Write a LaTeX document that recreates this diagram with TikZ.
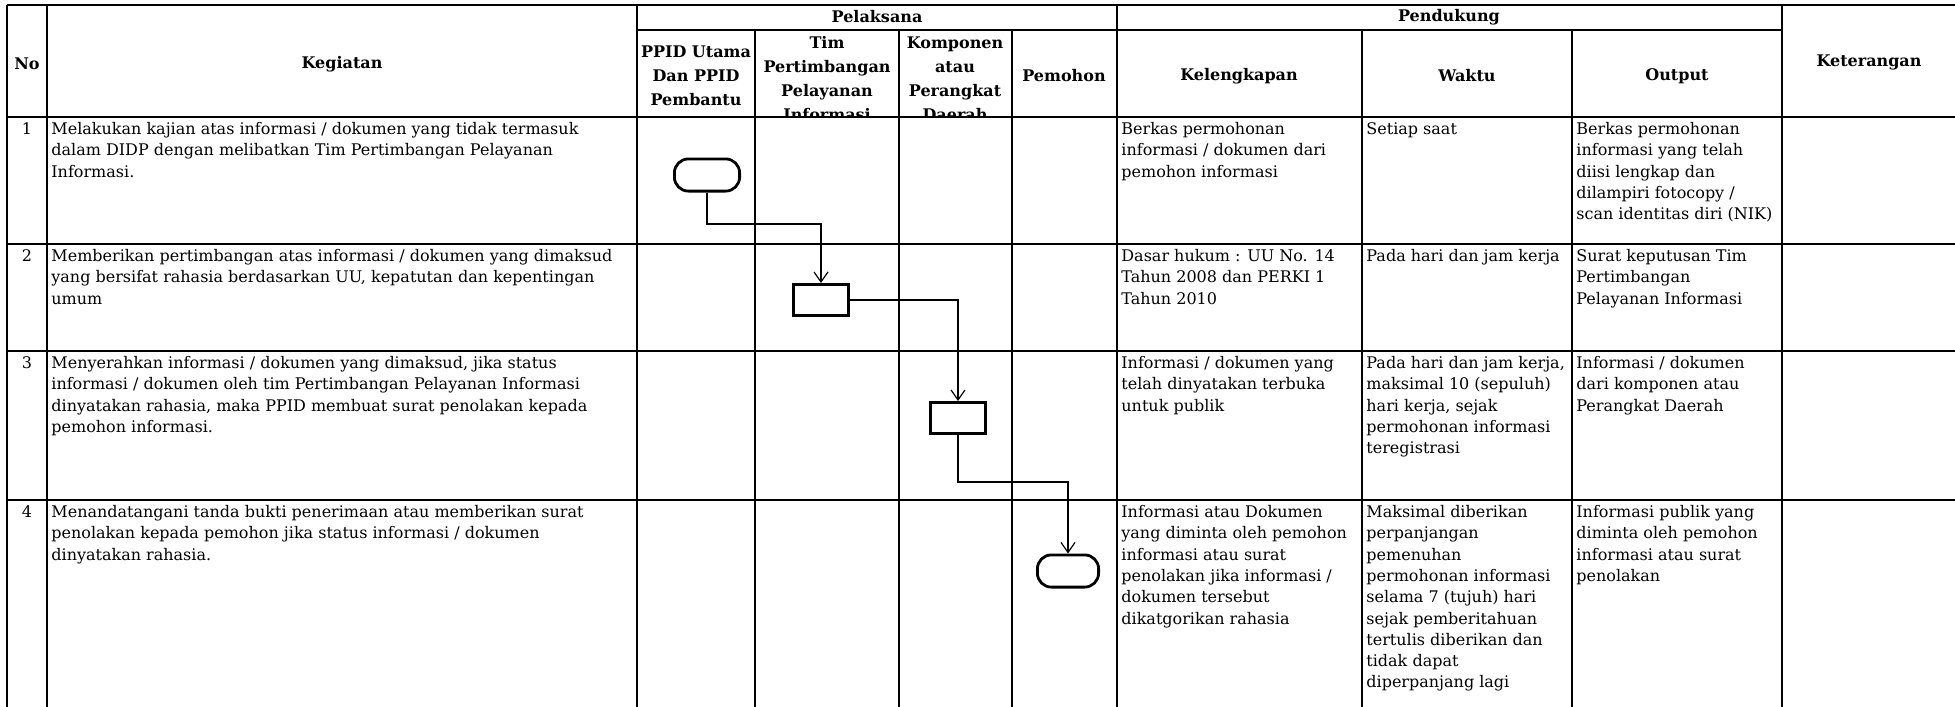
\documentclass[tikz,border=0pt]{standalone}
\usepackage{fontspec}
\setmainfont{DejaVu Serif}
\usetikzlibrary{arrows.meta}
\newcommand{\isifont}{\fontsize{8}{10.65}\selectfont}
\newcommand{\judulfont}{\fontsize{8}{12}\selectfont\bfseries}
\tikzset{
  garis/.style={line width=1.2pt},
  judul/.style={inner sep=0pt, align=center, font=\judulfont},
  isi/.style={anchor=north west, inner sep=0pt, align=left, font=\isifont},
  nomor/.style={anchor=base, inner sep=0pt, font=\isifont},
  terminal/.style={draw, line width=1.4pt, rounded corners=7pt, minimum height=16.1pt, inner sep=0pt},
  proses/.style={draw, line width=1.4pt, minimum width=27.8pt, minimum height=15.6pt, inner sep=0pt},
  alur/.style={line width=0.6pt, -{Straight Barb[length=5pt,width=7pt]}}
}

\begin{document}
\begin{tikzpicture}[x=0.5pt,y=-0.5pt]
		\useasboundingbox (0,0) rectangle (1955,707);
		\clip (0,0) rectangle (1955,707);
		% garis tabel
		\draw[garis] (7,5) -- (1962,5);
		\draw[garis] (637,30) -- (1782,30);
		\draw[garis] (7,117) -- (1962,117);
		\draw[garis] (7,244) -- (1962,244);
		\draw[garis] (7,351) -- (1962,351);
		\draw[garis] (7,500) -- (1962,500);
		\draw[garis] (7,5) -- (7,712);
		\draw[garis] (47,5) -- (47,712);
		\draw[garis] (637,5) -- (637,712);
		\draw[garis] (755,30) -- (755,712);
		\draw[garis] (899,30) -- (899,712);
		\draw[garis] (1012,30) -- (1012,712);
		\draw[garis] (1117,5) -- (1117,712);
		\draw[garis] (1362,30) -- (1362,712);
		\draw[garis] (1572,30) -- (1572,712);
		\draw[garis] (1782,5) -- (1782,712);
		%
		% kepala tabel
		\node[judul] (hNo) at (27,64) {No};
		\node[judul] (hKeg) at (342,64) {Kegiatan};
		\node[judul] (hPel) at (877,17) {Pelaksana};
		\node[judul] (hPen) at (1449,17) {Pendukung};
		\node[judul] (hPPID) at (696,76) {PPID Utama\\Dan PPID\\Pembantu};
		\begin{scope}
			\clip (755,30) rectangle (1012,117);
			\node[judul] (hTim) at (827,79) {Tim\\Pertimbangan\\Pelayanan\\Informasi};
			\node[judul] (hKomp) at (955,79) {Komponen\\atau\\Perangkat\\Daerah};
		\end{scope}
		\node[judul] (hPem) at (1064,76) {Pemohon};
		\node[judul] (hLeng) at (1239,76) {Kelengkapan};
		\node[judul] (hWak) at (1467,76) {Waktu};
		\node[judul] (hOut) at (1677,76) {Output};
		\node[judul] (hKet) at (1869,62) {Keterangan};
		%
		% baris 1
		\node[nomor] (no1) at (27,134) {1};
		\node[isi] (keg1) at (51,122) {Melakukan kajian atas informasi / dokumen yang tidak termasuk\\dalam DIDP dengan melibatkan Tim Pertimbangan Pelayanan\\Informasi.};
		\node[isi] (lengkap1) at (1121,122) {Berkas permohonan\\informasi / dokumen dari\\pemohon informasi};
		\node[isi] (waktu1) at (1366,122) {Setiap saat};
		\node[isi] (output1) at (1576,122) {Berkas permohonan\\informasi yang telah\\diisi lengkap dan\\dilampiri fotocopy /\\scan identitas diri (NIK)};
		%
		% baris 2
		\node[nomor] (no2) at (27,261) {2};
		\node[isi] (keg2) at (51,249) {Memberikan pertimbangan atas informasi / dokumen yang dimaksud\\yang bersifat rahasia berdasarkan UU, kepatutan dan kepentingan\\umum};
		\node[isi] (lengkap2) at (1121,249) {Dasar hukum : UU No. 14\\Tahun 2008 dan PERKI 1\\Tahun 2010};
		\node[isi] (waktu2) at (1366,249) {Pada hari dan jam kerja};
		\node[isi] (output2) at (1576,249) {Surat keputusan Tim\\Pertimbangan\\Pelayanan Informasi};
		%
		% baris 3
		\node[nomor] (no3) at (27,368) {3};
		\node[isi] (keg3) at (51,356) {Menyerahkan informasi / dokumen yang dimaksud, jika status\\informasi / dokumen oleh tim Pertimbangan Pelayanan Informasi\\dinyatakan rahasia, maka PPID membuat surat penolakan kepada\\pemohon informasi.};
		\node[isi] (lengkap3) at (1121,356) {Informasi / dokumen yang\\telah dinyatakan terbuka\\untuk publik};
		\node[isi] (waktu3) at (1366,356) {Pada hari dan jam kerja,\\maksimal 10 (sepuluh)\\hari kerja, sejak\\permohonan informasi\\teregistrasi};
		\node[isi] (output3) at (1576,356) {Informasi / dokumen\\dari komponen atau\\Perangkat Daerah};
		%
		% baris 4
		\node[nomor] (no4) at (27,517) {4};
		\node[isi] (keg4) at (51,505) {Menandatangani tanda bukti penerimaan atau memberikan surat\\penolakan kepada pemohon jika status informasi / dokumen\\dinyatakan rahasia.};
		\node[isi] (lengkap4) at (1121,505) {Informasi atau Dokumen\\yang diminta oleh pemohon\\informasi atau surat\\penolakan jika informasi /\\dokumen tersebut\\dikatgorikan rahasia};
		\node[isi] (waktu4) at (1366,505) {Maksimal diberikan\\perpanjangan\\pemenuhan\\permohonan informasi\\selama 7 (tujuh) hari\\sejak pemberitahuan\\tertulis diberikan dan\\tidak dapat\\diperpanjang lagi};
		\node[isi] (output4) at (1576,505) {Informasi publik yang\\diminta oleh pemohon\\informasi atau surat\\penolakan};
		%
		% bagan alir
		\node[terminal, minimum width=32.6pt] (mulai) at (707,175) {};
		\node[proses] (timbang) at (821,300) {};
		\node[proses] (serah) at (958,418) {};
		\node[terminal, minimum width=30.6pt] (selesai) at (1068,571) {};
		\coordinate (belok1) at (821,224);
		\coordinate (belok3) at (1068,482);
		\draw[alur] (mulai.south) |- (belok1) -- (timbang.north);
		\draw[alur] (timbang.east) -| (serah.north);
		\draw[alur] (serah.south) |- (belok3) -- (selesai.north);
	\end{tikzpicture}
\end{document}
